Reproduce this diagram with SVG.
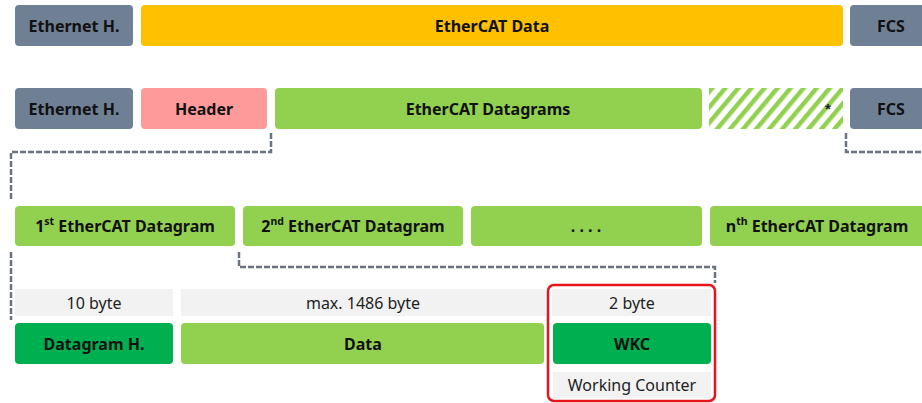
<svg xmlns="http://www.w3.org/2000/svg" width="922" height="403" viewBox="0 0 922 403">
<defs>
<style>
.b{font-family:"Noto Sans","Open Sans","DejaVu Sans",sans-serif;font-weight:bold;font-size:16px;fill:#111;text-anchor:middle;dominant-baseline:central}
.n{font-family:"Noto Sans","Open Sans","DejaVu Sans",sans-serif;font-size:16px;fill:#222;text-anchor:middle;dominant-baseline:central}
.s{font-size:10.5px;dominant-baseline:auto}
.gray{fill:#6F7F94}
.org{fill:#FFC000}
.pink{fill:#FF9A9A}
.grn{fill:#92D050}
.dg{fill:#00B050}
.lt{fill:#F2F2F2}
.dash{fill:none;stroke:#6B7380;stroke-width:2.5;stroke-dasharray:6 2}
</style>
<pattern id="hatch" patternUnits="userSpaceOnUse" width="10" height="10" patternTransform="rotate(40)">
<rect width="10" height="10" fill="#fff"/>
<rect width="4.5" height="10" fill="#92D050"/>
</pattern>
</defs>
<rect width="922" height="403" fill="#fff"/>

<g id="row1-eth"><rect class="gray" x="15" y="5" width="118" height="41" rx="4"/><text class="b" x="74" y="26">Ethernet H.</text></g>
<g id="row1-data"><rect class="org" x="141" y="5" width="702" height="41" rx="4"/><text class="b" x="492" y="26">EtherCAT Data</text></g>
<g id="row1-fcs"><rect class="gray" x="850" y="5" width="80" height="41" rx="4"/><text class="b" x="891" y="26">FCS</text></g>

<g id="row2-eth"><rect class="gray" x="15" y="88" width="118" height="41" rx="4"/><text class="b" x="74" y="109">Ethernet H.</text></g>
<g id="row2-header"><rect class="pink" x="141" y="88" width="126" height="41" rx="4"/><text class="b" x="204" y="109">Header</text></g>
<g id="row2-datagrams"><rect class="grn" x="275" y="88" width="427" height="41" rx="4"/><text class="b" x="488" y="109">EtherCAT Datagrams</text></g>
<g id="row2-pad"><rect x="709" y="88" width="134" height="41" fill="url(#hatch)"/><text x="828" y="114" font-family="Liberation Sans,sans-serif" font-size="15" font-weight="bold" fill="#222" text-anchor="middle">*</text></g>
<g id="row2-fcs"><rect class="gray" x="850" y="88" width="80" height="41" rx="4"/><text class="b" x="891" y="109">FCS</text></g>

<g id="dg1"><rect class="grn" x="15" y="206" width="220" height="40" rx="4"/><text class="b" x="125" y="226">1<tspan class="s" dy="-5">st</tspan><tspan dy="5"> EtherCAT Datagram</tspan></text></g>
<g id="dg2"><rect class="grn" x="243" y="206" width="220" height="40" rx="4"/><text class="b" x="353" y="226">2<tspan class="s" dy="-5">nd</tspan><tspan dy="5"> EtherCAT Datagram</tspan></text></g>
<g id="dgdots"><rect class="grn" x="471" y="206" width="231" height="40" rx="4"/><text class="b" x="586" y="226">. . . .</text></g>
<g id="dgn"><rect class="grn" x="710" y="206" width="220" height="40" rx="4"/><text class="b" x="817" y="226">n<tspan class="s" dy="-5">th</tspan><tspan dy="5"> EtherCAT Datagram</tspan></text></g>

<g id="sz10"><rect class="lt" x="15" y="289" width="158" height="27"/><text class="n" x="94" y="303">10 byte</text></g>
<g id="sz1486"><rect class="lt" x="181" y="289" width="365" height="27"/><text class="n" x="363" y="303">max. 1486 byte</text></g>
<g id="sz2"><rect class="lt" x="552" y="289" width="159" height="27"/><text class="n" x="632" y="303">2 byte</text></g>

<g id="dgh"><rect class="dg" x="15" y="323" width="158" height="41" rx="4"/><text class="b" x="94" y="344">Datagram H.</text></g>
<g id="data"><rect class="grn" x="181" y="323" width="363" height="41" rx="4"/><text class="b" x="363" y="344">Data</text></g>
<g id="wkc"><rect class="dg" x="553" y="323" width="158" height="41" rx="4"/><text class="b" x="632" y="344">WKC</text></g>
<g id="wc"><rect class="lt" x="553" y="372" width="158" height="26"/><text class="n" x="632" y="385">Working Counter</text></g>
<g id="highlight"><rect x="548" y="285" width="167" height="116" rx="6" fill="none" stroke="#E8141B" stroke-width="2.5"/></g>

<g id="connectors">
<path class="dash" d="M271 133 V152 H11 V200"/>
<path class="dash" d="M846 133 V152 H922"/>
<path class="dash" d="M239 252 V267 H715 V283"/>
<path class="dash" d="M11 252 V320"/>
</g>
</svg>
